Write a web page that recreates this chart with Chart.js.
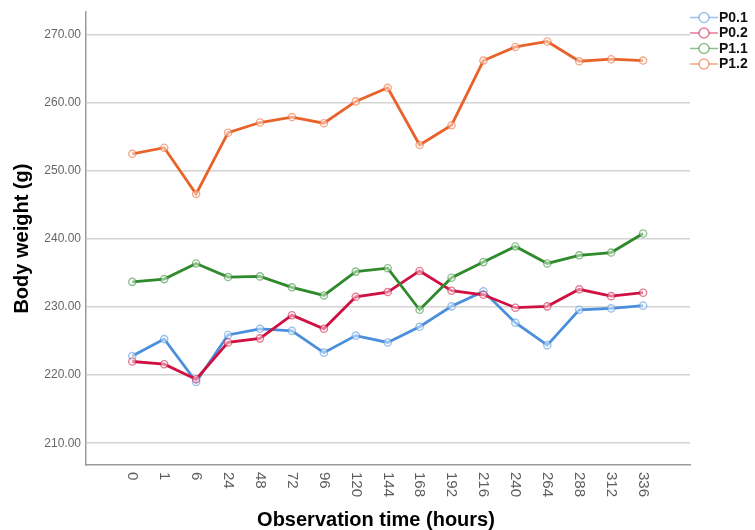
<!DOCTYPE html>
<html>
<head>
<meta charset="utf-8">
<script src="https://cdn.jsdelivr.net/npm/chart.js@4.4.1/dist/chart.umd.min.js"></script>
<style>
  html, body { margin: 0; padding: 0; background: #ffffff; }
  #wrap { width: 755px; height: 530px; position: relative; }
</style>
</head>
<body>
<div id="wrap"><canvas id="c" width="755" height="530"></canvas></div>
<script>
// ---- data ----
const categories = ["0","1","6","24","48","72","96","120","144","168","192","216","240","264","288","312","336"];
const seriesNames = ["P0.1","P0.2","P1.1","P1.2"];
const p01 = [222.8,225.3,219.0,225.9,226.8,226.5,223.3,225.8,224.8,227.1,230.1,232.3,227.7,224.4,229.6,229.8,230.2];
const p02 = [222.0,221.6,219.4,224.8,225.4,228.8,226.8,231.5,232.2,235.3,232.4,231.8,229.9,230.1,232.6,231.6,232.1];
const p11 = [233.7,234.1,236.4,234.4,234.5,232.9,231.7,235.2,235.7,229.6,234.3,236.6,238.9,236.4,237.6,238.0,240.8];
const p12 = [252.5,253.4,246.6,255.6,257.1,257.9,257.0,260.2,262.2,253.8,256.7,266.2,268.2,269.0,266.1,266.4,266.2];
const yTicks = [210,220,230,240,250,260,270];
const xTitle = 'Observation time (hours)';
const yTitle = 'Body weight (g)';

const lineColors = ["#4a8fdc","#cf1141","#2e8a2b","#e9622a"];
const pointColors = ["rgba(74,143,220,0.55)","rgba(207,17,65,0.55)","rgba(46,138,43,0.55)","rgba(233,98,42,0.55)"];
const allSeries = [p01,p02,p11,p12];

const datasets = allSeries.map((vals, k) => ({
  label: seriesNames[k],
  data: vals.map((v, i) => ({x: i, y: v})),
  borderColor: lineColors[k],
  borderWidth: 2.8,
  tension: 0,
  pointRadius: 3.6,
  pointBorderWidth: 1.4,
  pointBorderColor: pointColors[k],
  pointBackgroundColor: "rgba(255,255,255,0.45)",
  order: 3 - k
}));

const xLabelPlugin = {
  id: 'xLabels',
  afterDraw(chart) {
    const ctx = chart.ctx;
    const xs = chart.scales.x;
    const top = chart.chartArea.bottom + 7;
    ctx.save();
    ctx.font = '15px "Liberation Sans", Arial, sans-serif';
    ctx.fillStyle = '#5e5e5e';
    ctx.textAlign = 'left';
    ctx.textBaseline = 'middle';
    categories.forEach((c, i) => {
      const px = xs.getPixelForValue(i);
      ctx.save();
      ctx.translate(px, top);
      ctx.rotate(Math.PI / 2);
      ctx.fillText(c, 0, 0);
      ctx.restore();
    });
    // x axis title
    ctx.font = 'bold 20px "Liberation Sans", Arial, sans-serif';
    ctx.fillStyle = '#000000';
    ctx.textAlign = 'center';
    ctx.fillText(xTitle, 376, 520);
    ctx.restore();
  }
};

const legendPlugin = {
  id: 'customLegend',
  afterDraw(chart) {
    const ctx = chart.ctx;
    ctx.save();
    seriesNames.forEach((name, k) => {
      const y = 17.5 + k * 15.5;
      ctx.strokeStyle = pointColors[k];
      ctx.lineWidth = 1.5;
      ctx.beginPath();
      ctx.moveTo(690, y);
      ctx.lineTo(718, y);
      ctx.stroke();
      ctx.fillStyle = '#ffffff';
      ctx.beginPath();
      ctx.arc(704, y, 5, 0, Math.PI * 2);
      ctx.fill();
      ctx.stroke();
      ctx.fillStyle = '#111111';
      ctx.font = 'bold 14px "Liberation Sans", Arial, sans-serif';
      ctx.textAlign = 'left';
      ctx.textBaseline = 'middle';
      ctx.fillText(name, 719, y + 0.5);
    });
    ctx.restore();
  }
};

new Chart(document.getElementById('c'), {
  type: 'line',
  data: { datasets },
  options: {
    responsive: false,
    animation: false,
    devicePixelRatio: 1,
    layout: { padding: { top: 10, right: 65, left: 0, bottom: 0 } },
    plugins: { legend: { display: false }, tooltip: { enabled: false } },
    scales: {
      x: {
        type: 'linear',
        min: -1.45,
        max: 17.47,
        afterFit(s) { s.height = 65; },
        afterBuildTicks(s) { s.ticks = categories.map((c, i) => ({value: i})); },
        ticks: { display: false },
        grid: { display: false, drawTicks: false },
        border: { display: true, color: '#9a9a9a', width: 1.5 },
        title: { display: false }
      },
      y: {
        min: 206.8,
        max: 273.3,
        afterFit(s) { s.width = 86; },
        afterBuildTicks(s) { s.ticks = yTicks.map(v => ({value: v})); },
        ticks: {
          callback: v => Number(v).toFixed(2),
          color: '#666666',
          padding: 5,
          font: { family: '"Liberation Sans", Arial, sans-serif', size: 12 }
        },
        grid: { color: '#d4d4d4', lineWidth: 1.6, drawTicks: false },
        border: { display: true, color: '#9a9a9a', width: 1.5 },
        title: {
          display: true,
          text: yTitle,
          color: '#000000',
          font: { family: '"Liberation Sans", Arial, sans-serif', size: 20, weight: 'bold', lineHeight: 1.2 },
          padding: { top: 10, bottom: 0 }
        }
      }
    }
  },
  plugins: [xLabelPlugin, legendPlugin]
});
</script>
</body>
</html>
